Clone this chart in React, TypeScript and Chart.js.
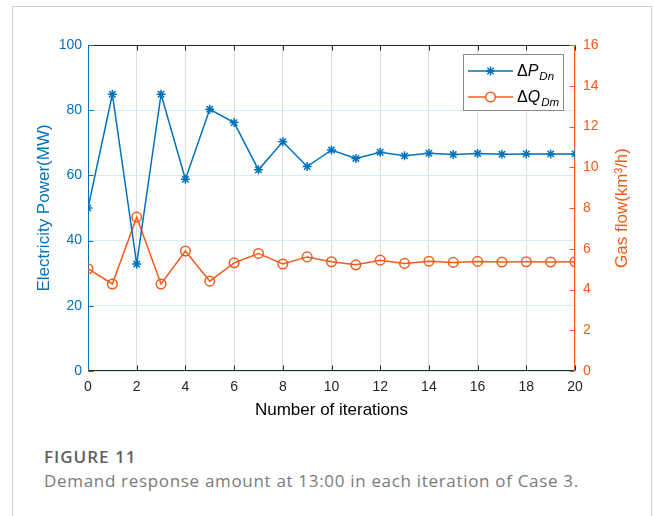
import React, { useEffect, useRef } from 'react';
import { Chart, registerables } from 'chart.js';

Chart.register(...registerables);

// ---- data ----
const iterations = [0, 1, 2, 3, 4, 5, 6, 7, 8, 9, 10, 11, 12, 13, 14, 15, 16, 17, 18, 19, 20];
const powerDn = [50, 84.9, 32.8, 84.9, 58.8, 80.3, 76.2, 61.7, 70.3, 62.7, 67.8, 65.2, 67.1, 66.0, 66.8, 66.4, 66.7, 66.5, 66.6, 66.6, 66.6];
const gasDm = [5.02, 4.27, 7.55, 4.27, 5.89, 4.41, 5.31, 5.77, 5.25, 5.6, 5.36, 5.21, 5.44, 5.28, 5.39, 5.33, 5.38, 5.35, 5.36, 5.35, 5.36];
const xTickValues = [0, 2, 4, 6, 8, 10, 12, 14, 16, 18, 20];
const leftTickValues = [0, 20, 40, 60, 80, 100];
const rightTickValues = [0, 2, 4, 6, 8, 10, 12, 14, 16];
const rightTitle = 'Gas flow(km\u00B3/h)';

const BLUE = '#0072BD';
const ORANGE = '#F25C19';
const FONT = '"Liberation Sans", Arial, Helvetica, sans-serif';
const TICK_LEN = 5;

function strokeLine(ctx: CanvasRenderingContext2D, x1: number, y1: number, x2: number, y2: number) {
  ctx.beginPath();
  ctx.moveTo(x1, y1);
  ctx.lineTo(x2, y2);
  ctx.stroke();
}

const framePlugin = {
  id: 'frame',
  beforeDatasetsDraw(chart: any) {
    const { ctx, chartArea, scales } = chart;
    const left = Math.round(chartArea.left) + 0.5;
    const right = Math.round(chartArea.right) - 0.5;
    const top = Math.round(chartArea.top) + 0.5;
    const bottom = Math.round(chartArea.bottom) - 0.5;
    ctx.save();
    ctx.lineWidth = 1;
    ctx.strokeStyle = '#262626';
    xTickValues.forEach((v) => {
      const px = Math.round(scales.x.getPixelForValue(v)) + 0.5;
      strokeLine(ctx, px, bottom, px, bottom - TICK_LEN);
      strokeLine(ctx, px, top, px, top + TICK_LEN);
    });
    strokeLine(ctx, left, bottom, right, bottom);
    strokeLine(ctx, left, top, right, top);
    ctx.strokeStyle = BLUE;
    leftTickValues.forEach((v) => {
      const py = Math.round(scales.y.getPixelForValue(v)) + 0.5;
      strokeLine(ctx, left, py, left + TICK_LEN, py);
    });
    strokeLine(ctx, left, top, left, bottom);
    ctx.strokeStyle = ORANGE;
    rightTickValues.forEach((v) => {
      const py = Math.round(scales.y1.getPixelForValue(v)) + 0.5;
      strokeLine(ctx, right, py, right - TICK_LEN, py);
    });
    strokeLine(ctx, right, top, right, bottom);

    // right axis title, reading bottom-to-top
    const cy = (chartArea.top + chartArea.bottom) / 2;
    ctx.translate(622, cy);
    ctx.rotate(-Math.PI / 2);
    ctx.fillStyle = ORANGE;
    ctx.font = `17px ${FONT}`;
    ctx.textAlign = 'center';
    ctx.textBaseline = 'middle';
    ctx.fillText(rightTitle, 0, 0);
    ctx.restore();
  },
};

function drawStar(ctx: CanvasRenderingContext2D, x: number, y: number, r: number) {
  ctx.beginPath();
  for (let i = 0; i < 4; i++) {
    const a = (i * Math.PI) / 4;
    ctx.moveTo(x - r * Math.cos(a), y - r * Math.sin(a));
    ctx.lineTo(x + r * Math.cos(a), y + r * Math.sin(a));
  }
  ctx.stroke();
}

const legendPlugin = {
  id: 'customLegend',
  afterDraw(chart: any) {
    const { ctx } = chart;
    const bx = 463.5, by = 54.5, bw = 100, bh = 56;
    ctx.save();
    ctx.fillStyle = '#ffffff';
    ctx.fillRect(bx, by, bw, bh);
    ctx.strokeStyle = '#8a8a8a';
    ctx.lineWidth = 1;
    ctx.strokeRect(bx, by, bw, bh);

    const rows = [
      { y: 71, color: BLUE, main: 'P', sub: 'Dn', marker: 'star' },
      { y: 97, color: ORANGE, main: 'Q', sub: 'Dm', marker: 'circle' },
    ];
    rows.forEach((r) => {
      ctx.strokeStyle = r.color;
      ctx.lineWidth = 1.5;
      strokeLine(ctx, 468, r.y, 513, r.y);
      if (r.marker === 'star') {
        drawStar(ctx, 490.5, r.y, 4.5);
      } else {
        ctx.beginPath();
        ctx.arc(490.5, r.y, 4.8, 0, Math.PI * 2);
        ctx.fillStyle = '#ffffff';
        ctx.fill();
        ctx.stroke();
      }
      ctx.fillStyle = '#000000';
      ctx.textBaseline = 'alphabetic';
      ctx.textAlign = 'left';
      ctx.font = `16px ${FONT}`;
      const baseY = r.y + 4.5;
      ctx.fillText('\u0394', 517, baseY);
      const dw = ctx.measureText('\u0394').width;
      ctx.font = `italic 16px ${FONT}`;
      ctx.fillText(r.main, 517 + dw, baseY);
      const mw = ctx.measureText(r.main).width;
      ctx.font = `italic 11.5px ${FONT}`;
      ctx.fillText(r.sub, 517 + dw + mw + 1, baseY + 4.5);
    });
    ctx.restore();
  },
};

export default function App() {
  const canvasRef = useRef<HTMLCanvasElement | null>(null);

  useEffect(() => {
    if (!canvasRef.current) return;
    const chart = new Chart(canvasRef.current, {
      type: 'line',
      data: {
        datasets: [
          {
            label: '\u0394P_Dn',
            data: iterations.map((x, i) => ({ x, y: powerDn[i] })),
            yAxisID: 'y',
            borderColor: BLUE,
            backgroundColor: BLUE,
            borderWidth: 1.5,
            pointStyle: 'star',
            pointRadius: 4.5,
            pointBorderWidth: 1.5,
            pointBorderColor: BLUE,
            tension: 0,
          },
          {
            label: '\u0394Q_Dm',
            data: iterations.map((x, i) => ({ x, y: gasDm[i] })),
            yAxisID: 'y1',
            borderColor: ORANGE,
            backgroundColor: 'rgba(0,0,0,0)',
            borderWidth: 1.5,
            pointStyle: 'circle',
            pointRadius: 4.8,
            pointBorderWidth: 1.5,
            pointBorderColor: ORANGE,
            pointBackgroundColor: 'rgba(0,0,0,0)',
            tension: 0,
          },
        ],
      },
      options: {
        animation: false,
        responsive: false,
        maintainAspectRatio: false,
        layout: { padding: { top: 45, left: 0, right: 0, bottom: 0 } },
        plugins: {
          legend: { display: false },
          tooltip: { enabled: false },
        },
        scales: {
          x: {
            type: 'linear',
            min: 0,
            max: 20,
            ticks: {
              stepSize: 2,
              color: '#262626',
              font: { family: FONT, size: 14 },
              padding: 8,
              maxRotation: 0,
              autoSkip: false,
            },
            grid: { color: '#dedede', drawTicks: false, lineWidth: 1 },
            border: { display: false },
            title: {
              display: true,
              text: 'Number of iterations',
              color: '#000000',
              font: { family: FONT, size: 17 },
              padding: { top: 0, bottom: 9 },
            },
            afterFit: (s: any) => { s.height = 59; },
          },
          y: {
            type: 'linear',
            position: 'left',
            min: 0,
            max: 100,
            ticks: {
              stepSize: 20,
              color: BLUE,
              font: { family: FONT, size: 14 },
              padding: 6,
            },
            grid: { color: '#d9eaf5', drawTicks: false, lineWidth: 1 },
            border: { display: false },
            title: {
              display: true,
              text: 'Electricity Power(MW)',
              color: BLUE,
              font: { family: FONT, size: 17 },
              padding: { top: 34, bottom: 0 },
            },
            afterFit: (s: any) => { s.width = 88; },
          },
          y1: {
            type: 'linear',
            position: 'right',
            min: 0,
            max: 16,
            ticks: {
              stepSize: 2,
              color: ORANGE,
              font: { family: FONT, size: 14 },
              padding: 8,
            },
            grid: { display: false, drawTicks: false },
            border: { display: false },
            title: { display: false },
            afterFit: (s: any) => { s.width = 79; },
          },
        },
      },
      plugins: [framePlugin, legendPlugin],
    });
    return () => chart.destroy();
  }, []);

  return (
    <div style={{ position: 'absolute', left: 0, top: 0, width: 654, height: 516, overflow: 'hidden', background: '#ffffff' }}>
      <div
        style={{
          position: 'absolute',
          left: 12,
          top: 6,
          width: 640,
          height: 540,
          boxSizing: 'border-box',
          border: '1px solid #cfcfcf',
          background: '#ffffff',
        }}
      />
      <canvas
        ref={canvasRef}
        width={654}
        height={430}
        style={{ position: 'absolute', left: 0, top: 0, width: 654, height: 430, display: 'block' }}
      />
      <div
        style={{
          position: 'absolute',
          left: 44,
          top: 448,
          fontFamily: '"Open Sans", sans-serif',
          fontWeight: 600,
          fontSize: 17,
          letterSpacing: '1px',
          lineHeight: '17px',
          color: '#5f5f5f',
          whiteSpace: 'nowrap',
        }}
      >
        FIGURE 11
      </div>
      <div
        style={{
          position: 'absolute',
          left: 44,
          top: 472,
          fontFamily: '"Open Sans", sans-serif',
          fontSize: 17,
          letterSpacing: '0.68px',
          lineHeight: '17px',
          color: '#7a7a7a',
          whiteSpace: 'nowrap',
        }}
      >
        Demand response amount at 13:00 in each iteration of Case 3.
      </div>
    </div>
  );
}
